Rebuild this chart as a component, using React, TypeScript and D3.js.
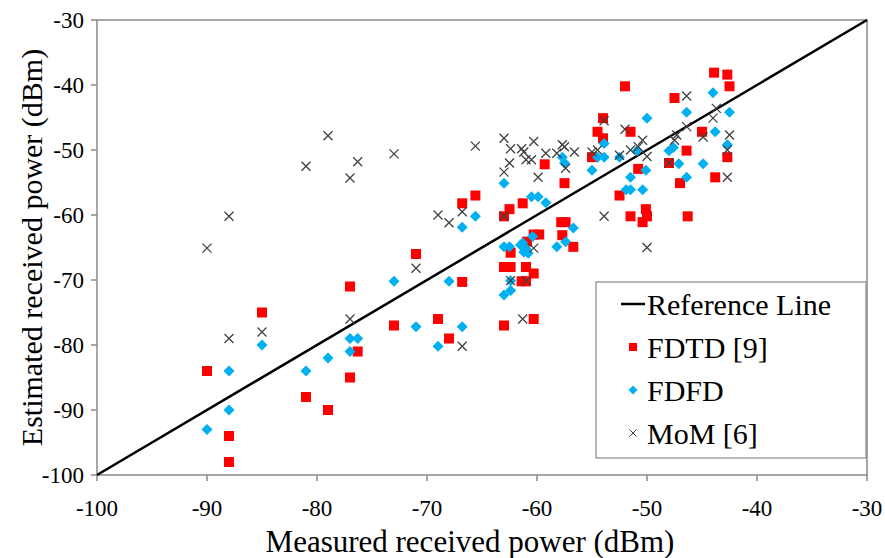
import React from 'react';
import * as d3 from 'd3';

// measured (x) vs estimated (y) received power, dBm
const fdtdPoints: [number, number][] = [
  [-90, -84], [-88, -94], [-88, -98], [-85, -75], [-81, -88], [-79, -90], [-77, -85], [-76.3, -81], [-77, -71],
  [-73, -77], [-71, -66], [-69, -76], [-68, -79], [-66.8, -70.3], [-66.8, -58.2], [-65.6, -57],
  [-63, -77], [-63, -60.2], [-63, -68], [-62.4, -68], [-62.5, -59.1], [-62.4, -65.8], [-61.3, -58.2],
  [-61, -68], [-61.4, -70.2], [-61, -70.2], [-60.3, -69], [-60.3, -76], [-60.3, -63], [-59.8, -63], [-60.9, -64.1],
  [-59.3, -52.2], [-57.5, -55.1], [-57.8, -61.1], [-57.4, -61.1], [-57.7, -63.1], [-56.7, -64.9],
  [-54, -45.1], [-54.5, -47.2], [-54, -48.2], [-55, -51.1],
  [-52, -40.2], [-51.5, -47.2], [-52.5, -57], [-51.5, -60.2], [-50.8, -52.9], [-50.1, -59.1], [-50, -60.2], [-50.4, -61.1],
  [-48, -52], [-47.5, -42], [-47, -55.1], [-46.4, -50.1], [-46.3, -60.2], [-45, -47.2],
  [-43.9, -38.1], [-42.7, -38.4], [-42.5, -40.2], [-42.7, -51.1], [-43.8, -54.2],
];

const fdfdPoints: [number, number][] = [
  [-90, -93], [-88, -84], [-88, -90], [-85, -80], [-81, -84], [-79, -82], [-77, -79], [-76.3, -79], [-77, -81],
  [-73, -70.2], [-71, -77.2], [-69, -80.2], [-68, -70.2], [-66.8, -77.2], [-66.8, -61.9], [-65.6, -60.2],
  [-63, -55.1], [-63, -64.9], [-62.5, -64.9], [-61.3, -64.3], [-60.4, -63.3], [-61.2, -65.7], [-60.8, -65.9],
  [-61.5, -64.6], [-61, -65.2], [-62.4, -70.1], [-63, -72.3], [-62.4, -71.6],
  [-60.5, -57.2], [-59.9, -57.2], [-59.2, -58.1], [-58.2, -64.9], [-57.4, -64.1], [-56.7, -62],
  [-57.7, -51.1], [-57.5, -52], [-55, -53.1], [-54.5, -51.1], [-53.9, -51.1], [-53.9, -49],
  [-52.5, -51.1], [-51.9, -56.1], [-51.5, -56.1], [-50.4, -56.1], [-51.5, -54.2], [-50.1, -53.1], [-50.9, -50.1], [-50, -45.1],
  [-48, -50.1], [-47.6, -49.6], [-47.1, -52.1], [-46.4, -44.2], [-46.4, -54.2], [-44.9, -52.1],
  [-44, -41.2], [-43.8, -47.2], [-42.7, -49.2], [-42.5, -44.2],
];

const momPoints: [number, number][] = [
  [-90, -65.1], [-88, -60.2], [-88, -79], [-85, -78], [-81, -52.5], [-79, -47.8], [-77, -54.3], [-76.3, -51.8], [-77, -76],
  [-73, -50.6], [-71, -68.2], [-69, -60], [-68, -61.2], [-66.8, -59.5], [-66.8, -80.2], [-65.6, -49.4],
  [-63, -48.2], [-62.4, -49.8], [-61.4, -49.8], [-61.2, -50.3], [-60.3, -48.7], [-61, -51.5], [-60.5, -51.5],
  [-62.5, -52], [-63, -53.4], [-59.9, -54.2], [-63, -60.2], [-62.4, -70.1], [-61, -70.1], [-61.3, -76], [-60.3, -65.1],
  [-59.2, -50.5], [-58.2, -50.5], [-57.7, -49.2], [-57.5, -49.5], [-56.6, -50.3], [-57.4, -52.8],
  [-55, -50.3], [-54.5, -50], [-53.9, -45.5], [-53.9, -60.2],
  [-52, -46.8], [-52.5, -50.8], [-51.5, -50], [-50.4, -48.5], [-50.8, -49.5], [-50, -51], [-50, -65],
  [-48, -52], [-47.5, -48.5], [-47.3, -47.7], [-46.4, -46.4], [-46.4, -41.7], [-44.9, -48], [-44, -45.1],
  [-43.7, -43.6], [-42.5, -47.7], [-42.7, -50], [-42.7, -54.2],
];

const referenceLine: [number, number][] = [[-100, -100], [-30, -30]];
const tickValues = [-100, -90, -80, -70, -60, -50, -40, -30];
const legendLabels = ['Reference Line', 'FDTD [9]', 'FDFD', 'MoM [6]'];

const W = 885;
const H = 558;
const plot = { left: 97, right: 867, top: 20, bottom: 475 };
const axisColor = '#8a8a8a';
const font = "'Liberation Serif', 'Times New Roman', serif";

export default function App() {
  const x = d3.scaleLinear().domain([-100, -30]).range([plot.left, plot.right]);
  const y = d3.scaleLinear().domain([-100, -30]).range([plot.bottom, plot.top]);
  const line = d3.line<[number, number]>().x(d => x(d[0])).y(d => y(d[1]));

  const square = (cx: number, cy: number, s: number, k: string) => (
    <rect key={k} x={cx - s / 2} y={cy - s / 2} width={s} height={s} fill="#ff0000" />
  );
  const diamond = (cx: number, cy: number, r: number, k: string) => (
    <path key={k} d={`M${cx},${cy - r}L${cx + r},${cy}L${cx},${cy + r}L${cx - r},${cy}Z`} fill="#00b0f0" />
  );
  const cross = (cx: number, cy: number, r: number, k: string, sw = 1.3) => (
    <path key={k} d={`M${cx - r},${cy - r}L${cx + r},${cy + r}M${cx - r},${cy + r}L${cx + r},${cy - r}`}
      stroke="#404040" strokeWidth={sw} fill="none" />
  );

  const legendTop = 282;
  const rowH = 43;
  const txt = { fontFamily: font, fill: '#000' };

  return (
    <svg width={W} height={H} style={{ position: 'absolute', left: 0, top: 0, background: '#fff' }}>
      {/* plot frame */}
      <rect x={plot.left} y={plot.top} width={plot.right - plot.left} height={plot.bottom - plot.top}
        fill="none" stroke={axisColor} strokeWidth={1.5} />

      {/* ticks + labels */}
      {tickValues.map(t => (
        <g key={'x' + t}>
          <line x1={x(t)} x2={x(t)} y1={plot.bottom} y2={plot.bottom + 6} stroke={axisColor} strokeWidth={1.5} />
          <text x={x(t)} y={516} textAnchor="middle" fontSize={23} style={txt}>{t}</text>
        </g>
      ))}
      {tickValues.map(t => (
        <g key={'y' + t}>
          <line x1={plot.left - 6} x2={plot.left} y1={y(t)} y2={y(t)} stroke={axisColor} strokeWidth={1.5} />
          <text x={84} y={y(t) + 8} textAnchor="end" fontSize={23} style={txt}>{t}</text>
        </g>
      ))}

      <path d={line(referenceLine) || ''} stroke="#000" strokeWidth={2.5} fill="none" />

      {fdtdPoints.map((d, i) => square(x(d[0]), y(d[1]), 10, 's' + i))}
      {fdfdPoints.map((d, i) => diamond(x(d[0]), y(d[1]), 5.5, 'd' + i))}
      {momPoints.map((d, i) => cross(x(d[0]), y(d[1]), 4.5, 'c' + i))}

      {/* axis titles */}
      <text x={470} y={552} textAnchor="middle" fontSize={31} style={txt}>
        Measured received power (dBm)
      </text>
      <text transform={`translate(42,${(plot.top + plot.bottom) / 2}) rotate(-90)`} textAnchor="middle"
        fontSize={30} style={txt}>
        Estimated received power (dBm)
      </text>

      {/* legend */}
      <rect x={596} y={legendTop} width={270} height={176} fill="#fff" stroke={axisColor} strokeWidth={1.2} />
      {legendLabels.map((lab, i) => {
        const cy = legendTop + 22 + i * rowH;
        let mark;
        if (i === 0) mark = <line x1={621} x2={645} y1={cy} y2={cy} stroke="#000" strokeWidth={2.5} />;
        else if (i === 1) mark = square(633, cy, 8, 'lm');
        else if (i === 2) mark = diamond(633, cy, 4.5, 'lm');
        else mark = cross(633, cy, 3.5, 'lm', 1);
        return (
          <g key={lab}>
            {mark}
            <text x={647} y={cy + 11} fontSize={30} style={txt}>{lab}</text>
          </g>
        );
      })}
    </svg>
  );
}
